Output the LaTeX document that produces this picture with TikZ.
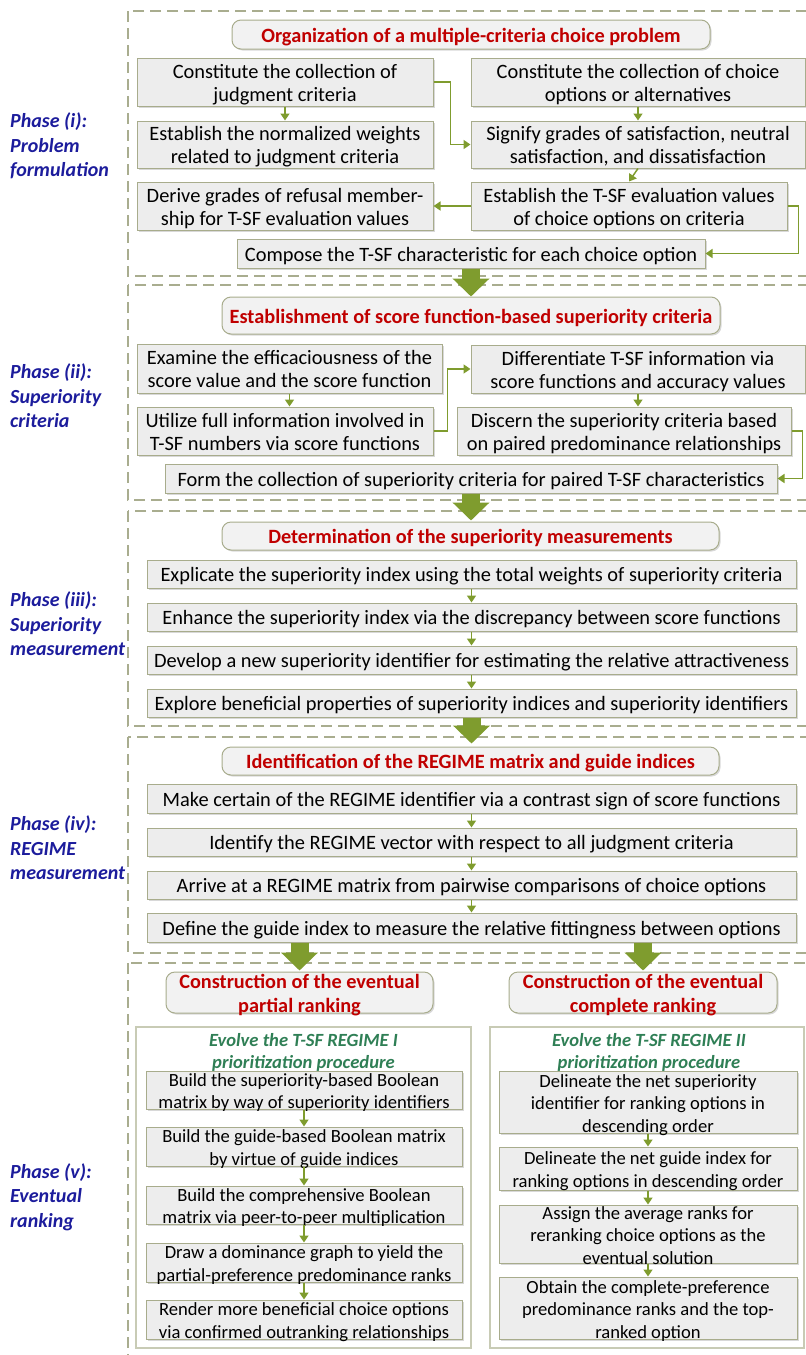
\documentclass[tikz,border=0pt]{standalone}
\usepackage{fontspec}
\setmainfont{Carlito}
\usetikzlibrary{arrows.meta,shadows,calc}
\definecolor{boxfill}{HTML}{EDEDED}
\definecolor{boxline}{HTML}{A8AC8C}
\definecolor{dashcol}{HTML}{A9AD8F}
\definecolor{arrowgreen}{HTML}{7F9C2E}
\definecolor{titlered}{HTML}{C00000}
\definecolor{phaseblue}{HTML}{1C1C9C}
\definecolor{headgreen}{HTML}{2F7F55}
\definecolor{panelline}{HTML}{C8CBB5}
% centred multi-line text block of zero height/depth, lowered slightly
\newcommand\mlines[1]{\raisebox{\dimexpr(\depth-\height)/2-3pt\relax}[0pt][0pt]{\begin{tabular}{@{}c@{}}#1\end{tabular}}}
\tikzset{
  stepbox/.style={draw=boxline, fill=boxfill, line width=1pt, inner sep=0pt,
    font=\fontsize{20.4}{23}\selectfont,
    drop shadow={shadow xshift=1.5pt, shadow yshift=-1.5pt, fill=black!30, opacity=0.5}},
  smallbox/.style={stepbox, font=\fontsize{18.6}{22.5}\selectfont},
  titlebox/.style={draw=boxline, fill=boxfill!70!white, line width=1pt, rounded corners=9pt, inner sep=0pt,
    text=titlered, font=\bfseries\fontsize{20.3}{24}\selectfont,
    drop shadow={shadow xshift=1.5pt, shadow yshift=-1.5pt, fill=black!30, opacity=0.5}},
  phaselabel/.style={anchor=west, align=left, text=phaseblue, inner sep=0pt,
    font=\bfseries\itshape\fontsize{20}{24.5}\selectfont},
  frame/.style={draw=dashcol, line width=2.8pt, dash pattern=on 11pt off 6pt},
  panel/.style={draw=panelline, line width=1.2pt, fill=white, inner sep=0pt},
  header/.style={text=headgreen, inner sep=0pt, font=\bfseries\itshape\fontsize{18.6}{22}\selectfont},
  conn/.style={draw=arrowgreen, line width=1.5pt, -{Triangle[width=9pt,length=7pt]}},
  bigarrow/.style={draw=arrowgreen, line width=18pt, -{Triangle[width=36pt,length=18pt]}}
}
\begin{document}
\begin{tikzpicture}[x=1pt,y=-1pt]
\useasboundingbox (0,0) rectangle (806,1355);
% phase frames
\draw[frame] (128,11) rectangle (840,276);
\draw[frame] (128,285) rectangle (840,500);
\draw[frame] (128,511) rectangle (840,726);
\draw[frame] (128,737) rectangle (840,953);
\draw[frame] (128,963) rectangle (840,1380);
% phase labels
\node[phaselabel] (ph1) at (10,146) {Phase (i):\\Problem\\formulation};
\node[phaselabel] (ph2) at (10,396) {Phase (ii):\\Superiority\\criteria};
\node[phaselabel] (ph3) at (10,624) {Phase (iii):\\Superiority\\measurement};
\node[phaselabel] (ph4) at (10,848) {Phase (iv):\\REGIME\\measurement};
\node[phaselabel] (ph5) at (10,1197) {Phase (v):\\Eventual\\ranking};
% ---------- Phase 1
\node[titlebox, minimum width=478pt, minimum height=29pt] (t1) at (471,34.5) {\mlines{Organization of a multiple-criteria choice problem}};
\node[stepbox, minimum width=296pt, minimum height=48pt] (a1) at (285,82) {\mlines{Constitute the collection of\\judgment criteria}};
\node[stepbox, minimum width=296pt, minimum height=47pt] (a2) at (285,144.5) {\mlines{Establish the normalized weights\\related to judgment criteria}};
\node[stepbox, minimum width=296pt, minimum height=48pt] (a3) at (285,206) {\mlines{Derive grades of refusal member-\\ship for T-SF evaluation values}};
\node[stepbox, minimum width=468pt, minimum height=29pt] (a4) at (471,253.5) {\mlines{Compose the T-SF characteristic for each choice option}};
\node[stepbox, minimum width=334pt, minimum height=48pt] (r1) at (638,82) {\mlines{Constitute the collection of choice\\options or alternatives}};
\node[stepbox, minimum width=334pt, minimum height=47pt] (r2) at (638,144.5) {\mlines{Signify grades of satisfaction, neutral\\satisfaction, and dissatisfaction}};
\node[stepbox, minimum width=316pt, minimum height=48pt] (r3) at (629,206) {\mlines{Establish the T-SF evaluation values\\of choice options on criteria}};
\draw[conn] (a1.south) -- (a2.north);
\draw[conn] (a1.east) -- ++(17,0) |- (r2.west);
\draw[conn] (r1.south) -- (r2.north);
\draw[conn] (r2.south) -- (r3.south |- r3.north);
\draw[conn] (r3.west) -- (a3.east);
\draw[conn] (r3.east) -- ++(11,0) |- (a4.east);
% ---------- Phase 2
\node[titlebox, minimum width=498pt, minimum height=37pt] (t2) at (471,315.5) {\mlines{Establishment of score function-based superiority criteria}};
\node[stepbox, minimum width=305pt, minimum height=49pt] (l1) at (289.5,368.5) {\mlines{Examine the efficaciousness of the\\score value and the score function}};
\node[stepbox, minimum width=296pt, minimum height=48pt] (l2) at (285,431) {\mlines{Utilize full information involved in\\T-SF numbers via score functions}};
\node[stepbox, minimum width=334pt, minimum height=48pt] (s1) at (638,369) {\mlines{Differentiate T-SF information via\\score functions and accuracy values}};
\node[stepbox, minimum width=334pt, minimum height=48pt] (s2) at (624,431) {\mlines{Discern the superiority criteria based\\on paired predominance relationships}};
\node[stepbox, minimum width=612pt, minimum height=29pt] (s3) at (471,478.5) {\mlines{Form the collection of superiority criteria for paired T-SF characteristics}};
\draw[conn] (l1.south) -- (l1.south |- l2.north);
\draw[conn] (l2.east) -- ++(14,0) |- (s1.west);
\draw[conn] (s1.south) -- (s1.south |- s2.north);
\draw[conn] (s2.east) -- ++(11,0) |- (s3.east);
% ---------- Phase 3
\node[titlebox, minimum width=497pt, minimum height=28pt] (t3) at (470.5,536) {\mlines{Determination of the superiority measurements}};
\node[stepbox, minimum width=649pt, minimum height=28pt] (m1) at (471.5,574) {\mlines{Explicate the superiority index using the total weights of superiority criteria}};
\node[stepbox, minimum width=649pt, minimum height=28pt] (m2) at (471.5,617) {\mlines{Enhance the superiority index via the discrepancy between score functions}};
\node[stepbox, minimum width=649pt, minimum height=28pt] (m3) at (471.5,660) {\mlines{Develop a new superiority identifier for estimating the relative attractiveness}};
\node[stepbox, minimum width=649pt, minimum height=28pt] (m4) at (471.5,703) {\mlines{Explore beneficial properties of superiority indices and superiority identifiers}};
\draw[conn] (m1) -- (m2);
\draw[conn] (m2) -- (m3);
\draw[conn] (m3) -- (m4);
% ---------- Phase 4
\node[titlebox, minimum width=497pt, minimum height=28pt] (t4) at (470.5,761) {\mlines{Identification of the REGIME matrix and guide indices}};
\node[stepbox, minimum width=649pt, minimum height=29pt] (g1) at (471.5,798.5) {\mlines{Make certain of the REGIME identifier via a contrast sign of score functions}};
\node[stepbox, minimum width=649pt, minimum height=28pt] (g2) at (471.5,842) {\mlines{Identify the REGIME vector with respect to all judgment criteria}};
\node[stepbox, minimum width=649pt, minimum height=28pt] (g3) at (471.5,885) {\mlines{Arrive at a REGIME matrix from pairwise comparisons of choice options}};
\node[stepbox, minimum width=649pt, minimum height=29pt] (g4) at (471.5,927.5) {\mlines{Define the guide index to measure the relative fittingness between options}};
\draw[conn] (g1) -- (g2);
\draw[conn] (g2) -- (g3);
\draw[conn] (g3) -- (g4);
% ---------- Phase 5
\node[titlebox, minimum width=267pt, minimum height=41pt] (t5l) at (299.5,992.5) {\mlines{Construction of the eventual\\partial ranking}};
\node[titlebox, minimum width=268pt, minimum height=41pt] (t5r) at (643,992.5) {\mlines{Construction of the eventual\\complete ranking}};
\node[panel, minimum width=335pt, minimum height=321pt] (pl) at (303.5,1187.5) {};
\node[panel, minimum width=314pt, minimum height=321pt] (pr) at (647,1187.5) {};
\node[header] (hl) at (303.5,1050) {\mlines{Evolve the T-SF REGIME I\\prioritization procedure}};
\node[header] (hr) at (649,1050) {\mlines{Evolve the T-SF REGIME II\\prioritization procedure}};
\node[smallbox, minimum width=316pt, minimum height=38pt] (b1) at (304,1090) {\mlines{Build the superiority-based Boolean\\matrix by way of superiority identifiers}};
\node[smallbox, minimum width=316pt, minimum height=39pt] (b2) at (304,1146.5) {\mlines{Build the guide-based Boolean matrix\\by virtue of guide indices}};
\node[smallbox, minimum width=316pt, minimum height=38pt] (b3) at (304,1205) {\mlines{Build the comprehensive Boolean\\matrix via peer-to-peer multiplication}};
\node[smallbox, minimum width=316pt, minimum height=39pt] (b4) at (304,1262.5) {\mlines{Draw a dominance graph to yield the\\partial-preference predominance ranks}};
\node[smallbox, minimum width=316pt, minimum height=39pt] (b5) at (304,1319.5) {\mlines{Render more beneficial choice options\\via confirmed outranking relationships}};
\node[smallbox, minimum width=298pt, minimum height=62pt] (c1) at (648,1102) {\mlines{Delineate the net superiority\\identifier for ranking options in\\descending order}};
\node[smallbox, minimum width=298pt, minimum height=43pt] (c2) at (648,1168.5) {\mlines{Delineate the net guide index for\\ranking options in descending order}};
\node[smallbox, minimum width=298pt, minimum height=58pt] (c3) at (648,1234) {\mlines{Assign the average ranks for\\reranking choice options as the\\eventual solution}};
\node[smallbox, minimum width=298pt, minimum height=62pt] (c4) at (648,1308) {\mlines{Obtain the complete-preference\\predominance ranks and the top-\\ranked option}};
\draw[conn] (b1) -- (b2);
\draw[conn] (b2) -- (b3);
\draw[conn] (b3) -- (b4);
\draw[conn] (b4) -- (b5);
\draw[conn] (c1) -- (c2);
\draw[conn] (c2) -- (c3);
\draw[conn] (c3) -- (c4);
% ---------- big arrows between phases
\draw[bigarrow] (a4.south) -- (a4.south |- t2.north);
\draw[bigarrow] (s3.south) -- ++(0,27);
\draw[bigarrow] (m4.south) -- ++(0,26);
\draw[bigarrow] (g4.south -| t5l.north) -- ++(0,28);
\draw[bigarrow] (g4.south -| t5r.north) -- ++(0,28);
\end{tikzpicture}
\end{document}
